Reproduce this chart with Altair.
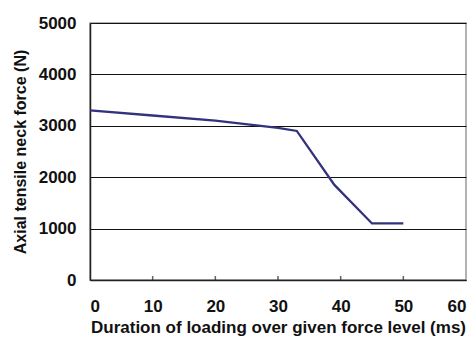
import altair as alt
import pandas as pd

duration_ms = [0, 10, 20, 30, 33, 39, 45, 50]
force_n = [3300, 3200, 3100, 2960, 2900, 1850, 1100, 1100]
x_ticks = [0, 10, 20, 30, 40, 50, 60]
y_ticks = [0, 1000, 2000, 3000, 4000, 5000]
inner_x_ticks = [10, 20, 30, 40, 50]
inner_y_ticks = [5000]

df = pd.DataFrame({"d": duration_ms, "f": force_n})
tx = pd.DataFrame({"t": inner_x_ticks})
ty = pd.DataFrame({"t": inner_y_ticks})

FONT = "Liberation Sans"
xscale = alt.Scale(domain=[0, 60], nice=False)
yscale = alt.Scale(domain=[0, 5000], nice=False)

line = alt.Chart(df).mark_line(color="#32327e", strokeWidth=2.3).encode(
    x=alt.X("d:Q", scale=xscale,
            axis=alt.Axis(values=x_ticks, format="d",
                          title="Duration of loading over given force level (ms)",
                          grid=False, ticks=False, labelPadding=18, titlePadding=5,
                          labelFontSize=17, titleFontSize=17,
                          domainColor="#222", domainWidth=1.5)),
    y=alt.Y("f:Q", scale=yscale,
            axis=alt.Axis(values=y_ticks, format="d", title="Axial tensile neck force (N)",
                          grid=True, gridColor="#111", gridWidth=1.2, ticks=False,
                          labelPadding=14, titlePadding=10,
                          labelFontSize=17, titleFontSize=16,
                          domainColor="#222", domainWidth=1.5)),
)

xt = alt.Chart(tx).mark_tick(color="#222", size=8, thickness=1.5, clip=True).encode(
    x=alt.X("t:Q", scale=xscale), y=alt.datum(0, scale=yscale)
)
yt = alt.Chart(ty).mark_tick(color="#222", size=14, thickness=1.5, clip=True, orient="horizontal").encode(
    y=alt.Y("t:Q", scale=yscale), x=alt.datum(0, scale=xscale)
)

chart = alt.layer(line, xt, yt).properties(
    width=376, height=257,
    autosize=alt.AutoSizeParams(type="none"),
    padding={"left": 82, "top": 15, "right": 1, "bottom": 57},
).configure_view(
    stroke="#999", strokeWidth=1.5
).configure_axis(
    labelFont=FONT, titleFont=FONT,
    labelFontWeight="bold", titleFontWeight="bold", labelColor="#111", titleColor="#111",
)

chart.save("out.html", embed_options={"renderer": "svg", "actions": False})
